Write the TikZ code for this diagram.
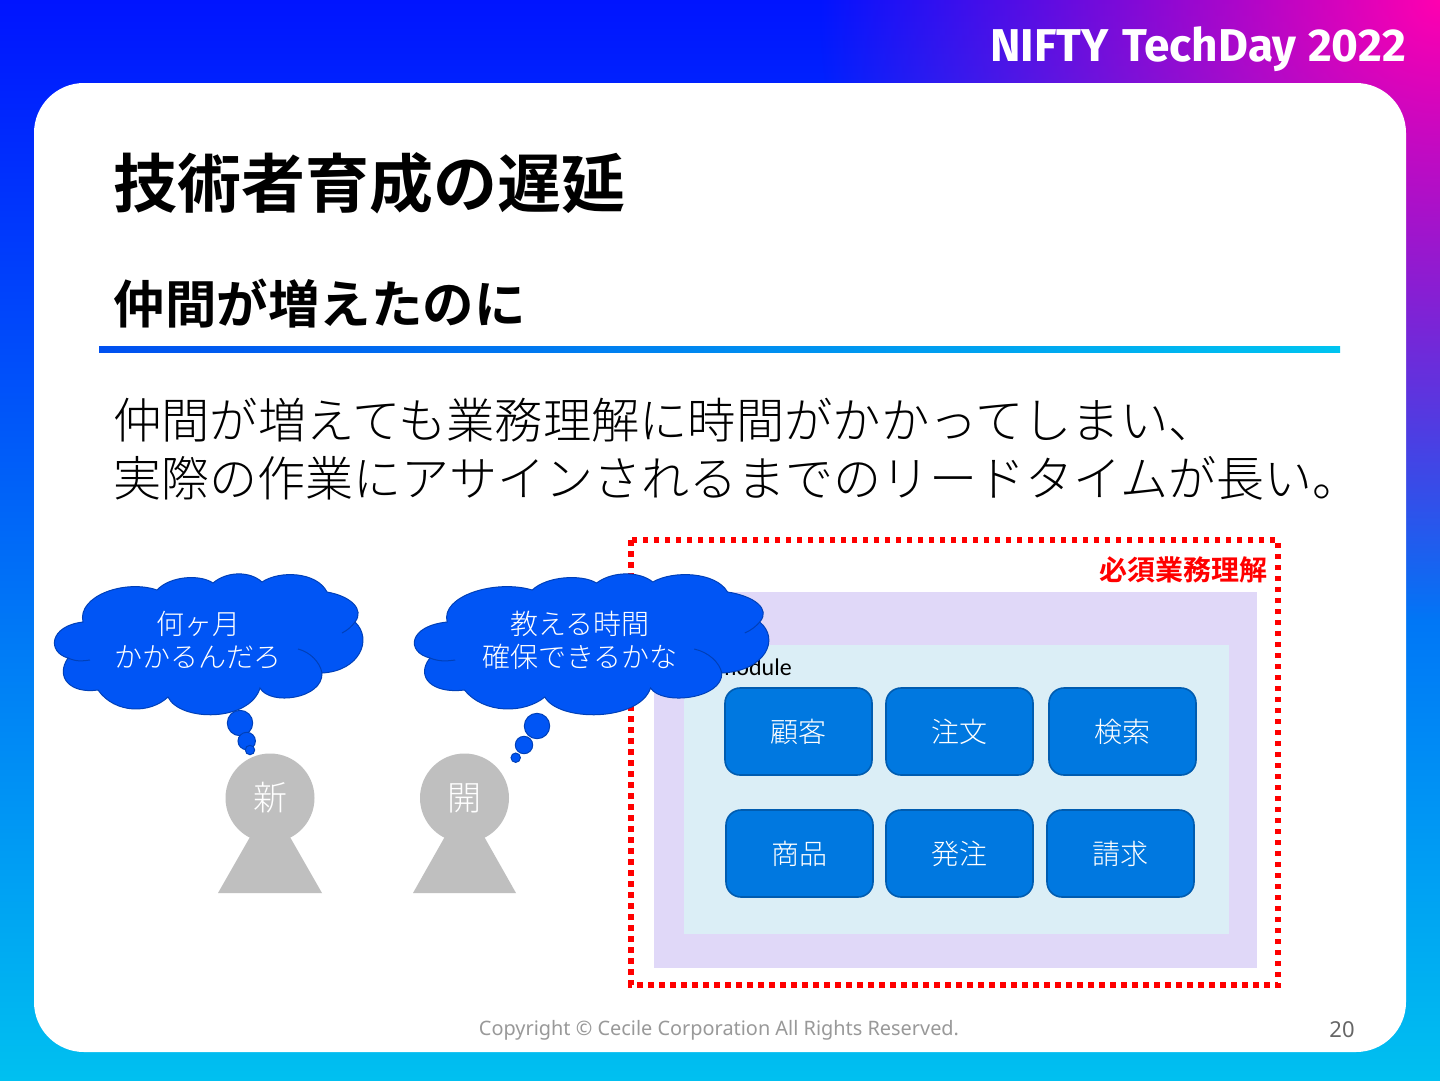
\documentclass[tikz,border=0pt]{standalone}
\usepackage{fontspec}
\usepackage{xcolor}
\usetikzlibrary{fadings}
\newfontfamily\jpfont{Noto Sans CJK JP}[BoldFont={Noto Sans CJK JP Bold}]
\newfontfamily\jplight{Noto Sans CJK JP Light}
\newfontfamily\logofont{Fira Sans}
\newfontfamily\labelfont{Carlito}
\newfontfamily\footfont{Noto Sans}
\definecolor{cloudblue}{HTML}{0055F5}
\definecolor{cloudline}{HTML}{0040B8}
\definecolor{boxblue}{HTML}{0078E0}
\definecolor{boxline}{HTML}{005CB0}
\definecolor{systempurple}{HTML}{E0D8F8}
\definecolor{modulecyan}{HTML}{DBEEF6}
\definecolor{persongray}{HTML}{BFBFBF}
\definecolor{slidetop}{HTML}{0014FF}
\definecolor{slidemid}{HTML}{0050FF}
\definecolor{slidebottom}{HTML}{00C0F0}
\definecolor{slidepink}{HTML}{FF00B0}
\definecolor{rulestart}{HTML}{0050F0}
\definecolor{ruleend}{HTML}{00C4F0}
\tikzfading[name=cornerfade, inner color=transparent!0, outer color=transparent!100]
\newcommand{\jpsize}[1]{\fontsize{#1}{#1}\selectfont}
\tikzset{
    domain-box/.style = {draw=boxline, fill=boxblue, line width=1.6pt, rectangle, rounded corners=15pt, minimum width=147pt, minimum height=87pt, text=white, font=\jplight\jpsize{28}},
    person-head/.style = {fill=persongray, circle, minimum size=89pt, inner sep=0pt, text=white, font=\jplight\jpsize{34}},
    cloud-text/.style = {text=white, align=center, font=\jplight\fontsize{28}{33}\selectfont},
    bubble/.style = {draw=cloudline, fill=cloudblue, line width=1pt},
    heading/.style = {anchor=west, inner sep=0pt, text=black},
    logo-text/.style = {anchor=base west, inner sep=0pt, text=white, font=\logofont\bfseries\jpsize{46}},
    pics/thought-cloud/.style = {code={
        \draw[bubble] (28,48) .. controls (22,22) and (70,5) .. (102,16)
            .. controls (115,2) and (145,0) .. (158,9)
            .. controls (172,-3) and (195,-3) .. (207,8)
            .. controls (225,-4) and (262,-2) .. (272,18)
            .. controls (295,22) and (310,35) .. (300,48)
            .. controls (318,65) and (305,97) .. (267,99)
            .. controls (268,125) and (215,132) .. (205,114)
            .. controls (195,148) and (125,148) .. (113,123)
            .. controls (95,140) and (60,140) .. (43,116)
            .. controls (15,120) and (0,103) .. (13,84)
            .. controls (-8,78) and (-6,52) .. (28,48) -- cycle;
        \draw[cloudline, line width=1pt] (13,84) .. controls (22,88) and (28,87) .. (35,86);
        \draw[cloudline, line width=1pt] (243,75) .. controls (255,78) and (265,88) .. (267,99);
        \draw[cloudline, line width=1pt] (287,59) .. controls (293,56) and (297,52) .. (300,48);
    }},
}

\begin{document}
\begin{tikzpicture}[x=1pt, y=-1pt]
\useasboundingbox (0,0) rectangle (1440,1080);
\shade[top color=slidetop, middle color=slidemid, bottom color=slidebottom] (0,0) rectangle (1440,1080);
\begin{scope}
\clip (0,0) rectangle (1440,1080);
\fill[slidepink, path fading=cornerfade] (820,-620) rectangle (2060,620);
\end{scope}
\fill[white, rounded corners=50pt] (34,83) rectangle (1406,1052);
\node[logo-text] (logonifty) at (990,61) {NIFTY};
\node[logo-text] (logotech) at (1122,61) {TechDay};
\node[logo-text] (logoyear) at (1308,61) {2022};

\node[heading, font=\jpfont\bfseries\jpsize{64}] (title) at (113,183) {技術者育成の遅延};
\node[heading, font=\jpfont\bfseries\jpsize{51.5}] (subtitle) at (113.5,304) {仲間が増えたのに};
\shade[left color=rulestart, right color=ruleend] (99,346) rectangle (1340,352);
\node[heading, font=\jplight\jpsize{48.3}] (lineone) at (113,420) {仲間が増えても業務理解に時間がかかってしまい、};
\node[heading, font=\jplight\jpsize{48}] (linetwo) at (113,478) {実際の作業にアサインされるまでのリードタイムが長い。};

\draw[red, line width=5.5pt, dash pattern=on 5.5pt off 5.5pt] (631,540) rectangle (1278,985);
\node[anchor=east, inner sep=0pt, text=red, font=\jpfont\bfseries\jpsize{28}] (required) at (1268,570) {必須業務理解};
\fill[systempurple] (654,592) rectangle (1257,968);
\fill[modulecyan] (684,645) rectangle (1229,934);
\node[anchor=east, inner sep=0pt, font=\labelfont\jpsize{24}] (modulelabel) at (792,667) {module};

\node[domain-box] (customer) at (798.5,731.5) {顧客};
\node[domain-box] (order) at (959.5,731.5) {注文};
\node[domain-box] (search) at (1122.5,731.5) {検索};
\node[domain-box] (product) at (799.5,853.5) {商品};
\node[domain-box] (purchase) at (959.5,853.5) {発注};
\node[domain-box] (invoice) at (1120.5,853.5) {請求};

\fill[persongray] (270,802) -- (322,893) -- (218,893) -- cycle;
\node[person-head] (newcomer) at (270,798) {新};
\fill[persongray] (464.5,802) -- (516,893) -- (413,893) -- cycle;
\node[person-head] (developer) at (464.5,798) {開};

\draw[bubble] (240,723) circle[radius=12.7];
\draw[bubble] (246.7,741) circle[radius=8.7];
\draw[bubble] (250,750) circle[radius=4.7];
\pic at (55,574) {thought-cloud};
\node[cloud-text] (newthought) at (198,640) {何ヶ月\\かかるんだろ};

\draw[bubble] (537,726) circle[radius=12.7];
\draw[bubble] (524,745) circle[radius=8.7];
\draw[bubble] (515.7,757.7) circle[radius=4.7];
\pic[xscale=1.149] at (415,574) {thought-cloud};
\node[cloud-text] (devthought) at (580,640) {教える時間\\確保できるかな};

\node[anchor=center, inner sep=0pt, text=black!40, font=\footfont\jpsize{19.9}] (copyright) at (719,1030.5) {Copyright © Cecile Corporation All Rights Reserved.};
\node[anchor=center, inner sep=0pt, text=black!60, font=\footfont\jpsize{22}] (pagenumber) at (1342,1030) {20};
\end{tikzpicture}
\end{document}
